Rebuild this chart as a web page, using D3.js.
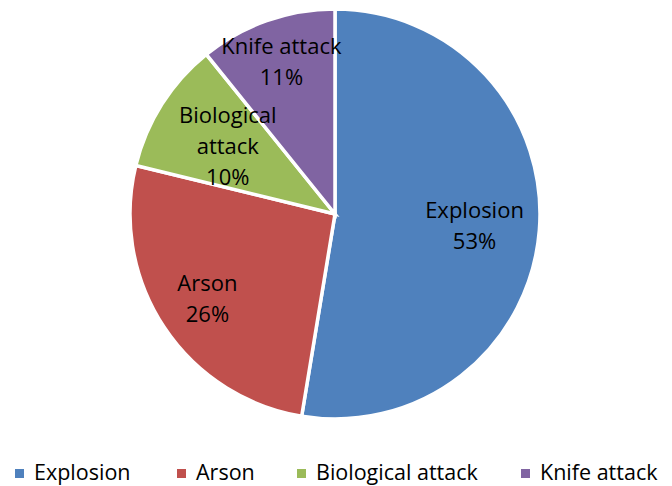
<!DOCTYPE html>
<html>
<head>
<meta charset="utf-8">
<script src="https://cdn.jsdelivr.net/npm/d3@7"></script>
<style>
  body { margin: 0; background: #fff; }
  text { font-family: "Open Sans", sans-serif; fill: #000; }
</style>
</head>
<body>
<div id="chart"></div>
<script>
// data
const categories = ["Explosion", "Arson", "Biological attack", "Knife attack"];
const shares = [52.6, 26.2, 10.4, 10.8];
const labelLines = [["Explosion"], ["Arson"], ["Biological", "attack"], ["Knife attack"]];

const colors = ["#4F81BD", "#C0504D", "#9BBB59", "#8064A2"];
// label distance from centre, Excel "best fit" puts them unevenly
const labelRadius = [140, 153, 127, 161];

const width = 672, height = 486;
const cx = 335, cy = 214, radius = 205;

const svg = d3.select("#chart").append("svg")
    .attr("width", width)
    .attr("height", height);

const g = svg.append("g").attr("transform", "translate(" + cx + "," + cy + ")");

const pie = d3.pie().sort(null).value(d => d);
const arcs = pie(shares);
const arc = d3.arc().innerRadius(0).outerRadius(radius);

g.selectAll("path")
    .data(arcs)
    .enter()
    .append("path")
        .attr("d", arc)
        .attr("fill", (d, i) => colors[i])
        .attr("stroke", "#fff")
        .attr("stroke-width", 3.5)
        .attr("stroke-linejoin", "miter");

// labels
const lineH = 31;
arcs.forEach(function (d, i) {
    const c = d3.arc().innerRadius(labelRadius[i]).outerRadius(labelRadius[i]).centroid(d);
    const lines = labelLines[i].concat([Math.round(shares[i]) + "%"]);
    const t = g.append("text")
        .attr("text-anchor", "middle")
        .attr("font-size", 22);
    lines.forEach(function (s, k) {
        t.append("tspan")
            .attr("x", c[0])
            .attr("y", c[1] + (k - (lines.length - 1) / 2) * lineH)
            .attr("dy", "0.35em")
            .text(s);
    });
});

// legend
const legendX = [15, 177, 297, 521];
const legend = svg.append("g").attr("transform", "translate(0,472)");
const item = legend.selectAll("g")
    .data(categories)
    .enter()
    .append("g")
        .attr("transform", (d, i) => "translate(" + legendX[i] + ",0)");
item.append("rect")
    .attr("x", 0).attr("y", -3)
    .attr("width", 9).attr("height", 9)
    .attr("fill", (d, i) => colors[i]);
item.append("text")
    .attr("x", 19)
    .attr("dy", "0.35em")
    .attr("font-size", 21.5)
    .text(d => d);
</script>
</body>
</html>
